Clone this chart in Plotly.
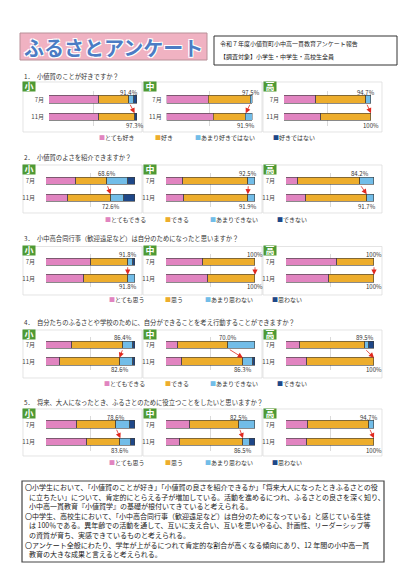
import plotly.graph_objects as go

W, H = 404, 588
FONT = "Noto Sans CJK JP"

schools = ["小", "中", "高"]
months = ["11月", "7月"]          # bottom -> top
colors = ["#E184C0", "#EDAD2C", "#72BDE8", "#1E4788"]

q_titles = [
    "1．\u2002小値賀のことが好きですか？",
    "2．\u2002小値賀のよさを紹介できますか？",
    "3．\u2002小中高合同行事（歓迎遠足など）は自分のためになったと思いますか？",
    "4．\u2002自分たちのふるさとや学校のために、自分ができることを考え行動することができますか？",
    "5．\u2002将来、大人になったとき、ふるさとのために役立つことをしたいと思いますか？",
]
q_legends = [
    ["とても好き", "好き", "あまり好きではない", "好きではない"],
    ["とてもできる", "できる", "あまりできない", "できない"],
    ["とても思う", "思う", "あまり思わない", "思わない"],
    ["とてもできる", "できる", "あまりできない", "できない"],
    ["とても思う", "思う", "あまり思わない", "思わない"],
]

# order: 小7月, 小11月, 中7月, 中11月, 高7月, 高11月
q1_very = [57.1, 56.8, 48.5, 55.0, 36.8, 42.1]
q1_yes = [34.3, 40.5, 49.0, 36.9, 57.9, 57.9]
q1_little = [5.7, 0, 2.5, 8.1, 5.3, 0]
q1_no = [2.9, 2.7, 0, 0, 0, 0]

q2_very = [33.7, 25.0, 19.5, 20.6, 14.0, 22.7]
q2_yes = [34.9, 47.6, 73.0, 71.3, 70.2, 69.0]
q2_little = [23.9, 15.0, 7.5, 8.1, 15.8, 8.3]
q2_no = [7.5, 12.4, 0, 0, 0, 0]

q3_very = [51.0, 43.0, 42.1, 47.5, 57.6, 49.3]
q3_yes = [40.8, 48.8, 57.9, 52.5, 42.4, 50.7]
q3_little = [6.1, 8.2, 0, 0, 0, 0]
q3_no = [2.1, 0, 0, 0, 0, 0]

q4_very = [29.6, 15.2, 14.0, 17.6, 15.8, 23.7]
q4_yes = [56.8, 67.4, 56.0, 68.7, 73.7, 76.3]
q4_little = [11.4, 15.2, 30.0, 11.0, 5.3, 0]
q4_no = [2.2, 2.2, 0, 2.7, 5.2, 0]

q5_very = [34.3, 46.4, 27.5, 15.4, 25.3, 23.7]
q5_yes = [44.3, 37.2, 55.0, 71.1, 69.4, 76.3]
q5_little = [16.0, 12.0, 17.5, 7.7, 5.3, 0]
q5_no = [5.4, 4.4, 0, 5.8, 0, 0]

questions = [
    [q1_very, q1_yes, q1_little, q1_no],
    [q2_very, q2_yes, q2_little, q2_no],
    [q3_very, q3_yes, q3_little, q3_no],
    [q4_very, q4_yes, q4_little, q4_no],
    [q5_very, q5_yes, q5_little, q5_no],
]

summary_lines = [
    "〇小学生において、「小値賀のことが好き」「小値賀の良さを紹介できるか」「将来大人になったときふるさとの役",
    "に立ちたい」について、肯定的にとらえる子が増加している。活動を進めるにつれ、ふるさとの良さを深く知り、",
    "小中高一貫教育『小値賀学』の基礎が根付いてきていると考えられる。",
    "〇中学生、高校生において、「小中高合同行事（歓迎遠足など）は自分のためになっている」と感じている生徒",
    "は 100％である。異年齢での活動を通して、互いに支え合い、互いを思いやる心、計画性、リーダーシップ等",
    "の資質が育ち、実感できているものと考えられる。",
    "〇アンケート全般にわたり、学年が上がるにつれて肯定的な割合が高くなる傾向にあり、12 年間の小中高一貫",
    "教育の大きな成果と言えると考えられる。",
]

# page geometry in pixels
sec_rows = [(99.5, 117), (181, 198), (262, 278.5), (345, 361.5), (424.5, 442)]
sec_head_y = [77, 157, 238.5, 322, 402]
sec_box = [(82, 132), (165, 213), (246.5, 295), (330, 378), (409, 456)]
sec_leg_y = [137.5, 219, 299, 383, 462]
leg_x = [[97, 153, 193, 271], [103, 163, 208, 275], [107, 163, 203, 270],
         [102, 163, 208, 275], [107, 163, 203, 270]]
bar_x = [[(49, 137), (166.7, 252.7), (284, 371)]] + [[(46, 135), (166, 255), (286, 374)]] * 4
panel_x = [(23, 142), (143, 262), (263, 382)]
badge_x = [29.5, 150, 269.5]
standoff = [4, 10, 10, 10, 10]


def px(x):
    return x / W


def py(y):
    return 1 - y / H


def pct(v):
    return "100%" if round(v, 1) >= 100 else f"{v:.1f}%"


def note(x, y, text, size, color="#222", anchor="left", **kw):
    return dict(x=px(x), y=py(y), xref="paper", yref="paper", xanchor=anchor,
                yanchor="middle", text=text, showarrow=False,
                font=dict(size=size, color=color, **kw.pop("font", {})), **kw)


fig = go.Figure()
shapes = []
ann = []
axes = {}

n = 0
for s in range(5):
    vals = questions[s]
    t, b = sec_rows[s]
    unit = b - t
    bw = 7.5 / unit
    ydom = [py(b + unit / 2), py(t - unit / 2)]
    for k in range(3):
        n += 1
        xa = "x" if n == 1 else f"x{n}"
        ya = "y" if n == 1 else f"y{n}"
        x0, x1 = bar_x[s][k]
        for c in range(4):
            v7 = vals[c][2 * k]
            v11 = vals[c][2 * k + 1]
            fig.add_trace(go.Bar(
                x=[v11 or None, v7 or None], y=months, orientation="h",
                width=bw, xaxis=xa, yaxis=ya, showlegend=False, hoverinfo="skip",
                marker=dict(color=colors[c], line=dict(color="#3a3a3a", width=0.6)),
            ))
        axes["xaxis" if n == 1 else f"xaxis{n}"] = dict(
            domain=[px(x0), px(x1)], range=[0, 100], tickvals=[0, 50, 100],
            showticklabels=False, showgrid=True, gridcolor="#DADADA", gridwidth=0.6,
            zeroline=False, showline=False, fixedrange=True, anchor=ya)
        axes["yaxis" if n == 1 else f"yaxis{n}"] = dict(
            domain=ydom, type="category", categoryorder="array", categoryarray=months,
            range=[-0.5, 1.5], showgrid=False, ticks="", ticklabelstandoff=standoff[s],
            tickfont=dict(size=6, color="#444"), fixedrange=True, anchor=xa)

        pos7 = vals[0][2 * k] + vals[1][2 * k]
        pos11 = vals[0][2 * k + 1] + vals[1][2 * k + 1]
        ann.append(dict(x=pos7, y=1, xref=xa, yref=ya, text=pct(pos7), showarrow=False,
                        xanchor="center", yanchor="middle", yshift=7.5,
                        font=dict(size=6, color="#333")))
        ann.append(dict(x=pos11, y=0, xref=xa, yref=ya, text=pct(pos11), showarrow=False,
                        xanchor="center", yanchor="middle", yshift=-8,
                        font=dict(size=6, color="#333")))
        ann.append(dict(x=pos11, y=bw / 2, xref=xa, yref=ya, ax=pos7, ay=1 - bw / 2,
                        axref=xa, ayref=ya, text="", showarrow=True, arrowhead=2,
                        arrowsize=1.3, arrowwidth=0.8, arrowcolor="#E0281E", standoff=0))

        # panel frame and badge
        l, r = panel_x[k]
        shapes.append(dict(type="rect", xref="paper", yref="paper", layer="below",
                           x0=px(l), x1=px(r), y0=py(sec_box[s][1]), y1=py(sec_box[s][0]),
                           line=dict(color="#D8D8D8", width=0.7), fillcolor="white"))
        ann.append(note(badge_x[k], sec_box[s][0] + 4.5, "<b>" + schools[k] + "</b>", 9,
                        color="white", anchor="center", width=12, height=9,
                        bgcolor="#4E9A34", borderpad=0))

    ann.append(note(22, sec_head_y[s], q_titles[s], 6.3, color="#333"))
    for c in range(4):
        ann.append(note(leg_x[s][c], sec_leg_y[s],
                        f'<span style="color:{colors[c]}">■</span>{q_legends[s][c]}', 6, color="#333"))

# header
shapes.append(dict(type="rect", xref="paper", yref="paper", x0=px(20), x1=px(207),
                   y0=py(60), y1=py(33), fillcolor="#F0B2C2", line=dict(color="#B89098", width=1)))
ann.append(note(113, 47, "ふるさとアンケート", 20, color="#4C7CC4", anchor="center",
                font=dict(weight="bold",
                          shadow="1px 1px 0 #fff, -1px -1px 0 #fff, 1px -1px 0 #fff, -1px 1px 0 #fff")))
shapes.append(dict(type="rect", xref="paper", yref="paper", x0=px(214), x1=px(397),
                   y0=py(65), y1=py(36), fillcolor="white", line=dict(color="#333", width=1)))
ann.append(note(218, 44, "令和７年度小値賀町小中高一貫教育アンケート報告", 6))
ann.append(note(218, 56, "【調査対象】小学生・中学生・高校生全員", 6))

# summary box
shapes.append(dict(type="rect", xref="paper", yref="paper", x0=px(22), x1=px(384),
                   y0=py(562), y1=py(481), fillcolor="white", line=dict(color="#444", width=1.2)))
for i, line in enumerate(summary_lines):
    xl = 23 if line.startswith("〇") else 27
    ann.append(note(xl, 487 + i * 9.6, line, 7.0))

fig.update_layout(
    width=W, height=H, margin=dict(l=0, r=0, t=0, b=0),
    paper_bgcolor="white", plot_bgcolor="rgba(0,0,0,0)",
    font=dict(family=FONT, color="#333"),
    barmode="stack", bargap=0,
    shapes=shapes, annotations=ann, **axes,
)

fig.write_html("out.html", config={"displayModeBar": False},
               post_script="document.body.style.margin='0';")
